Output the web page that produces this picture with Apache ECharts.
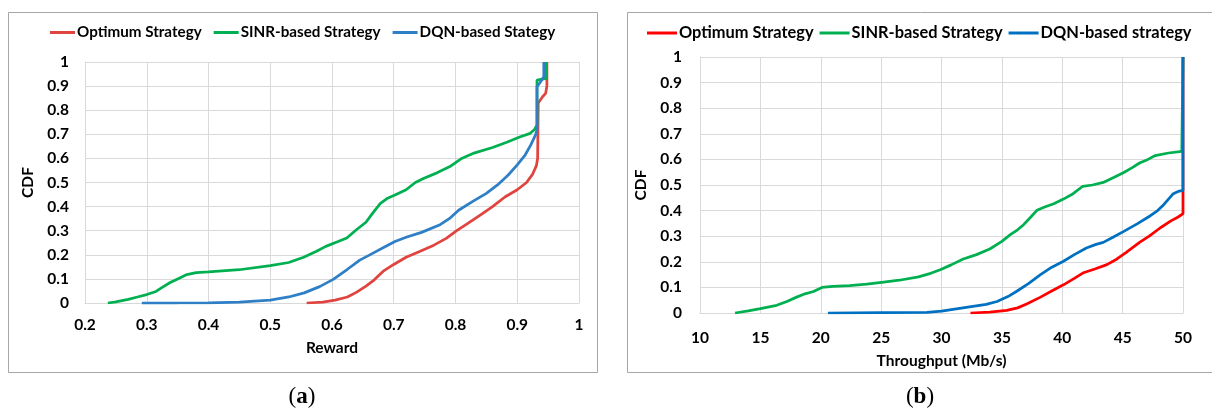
<!DOCTYPE html>
<html>
<head>
<meta charset="utf-8">
<script src="https://cdn.jsdelivr.net/npm/echarts@6/dist/echarts.min.js"></script>
<style>
  html, body { margin: 0; padding: 0; background: #fff; }
  #wrap { position: relative; width: 1212px; height: 410px; overflow: hidden; }
  #chartA { position: absolute; left: 0; top: 0; width: 606px; height: 410px; }
  #chartB { position: absolute; left: 606px; top: 0; width: 606px; height: 410px; }
</style>
</head>
<body>
<div id="wrap"><div id="chartA"></div><div id="chartB"></div></div>
<script>
// ---- Panel (a): CDF of reward ----
const rewardNames = ['Optimum Strategy', 'SINR-based Strategy', 'DQN-based Stategy'];
const rewardOptimum = [
  [0.559,0],[0.585,0.004],[0.605,0.012],[0.625,0.025],[0.64,0.045],[0.655,0.07],[0.668,0.095],
  [0.683,0.132],[0.7,0.16],[0.72,0.19],[0.74,0.212],[0.765,0.24],[0.785,0.268],[0.802,0.3],
  [0.82,0.33],[0.84,0.365],[0.86,0.4],[0.88,0.44],[0.9,0.47],[0.915,0.5],[0.925,0.535],
  [0.931,0.57],[0.933,0.6],[0.934,0.83],[0.941,0.856],[0.946,0.87],[0.948,0.9],[0.948,1]
];
const rewardSinr = [
  [0.237,0],[0.25,0.005],[0.27,0.015],[0.285,0.025],[0.3,0.035],[0.315,0.048],[0.325,0.065],
  [0.338,0.085],[0.35,0.1],[0.365,0.118],[0.38,0.126],[0.4,0.129],[0.45,0.138],[0.5,0.155],
  [0.53,0.168],[0.554,0.19],[0.575,0.215],[0.59,0.235],[0.61,0.255],[0.624,0.27],[0.64,0.305],
  [0.655,0.335],[0.665,0.37],[0.678,0.412],[0.69,0.435],[0.702,0.448],[0.72,0.47],[0.735,0.5],
  [0.748,0.517],[0.77,0.54],[0.791,0.566],[0.81,0.6],[0.83,0.622],[0.86,0.645],[0.883,0.667],
  [0.905,0.69],[0.921,0.704],[0.928,0.72],[0.932,0.739],[0.932,0.925],[0.947,0.932],[0.947,1]
];
const rewardDqn = [
  [0.292,0],[0.35,0],[0.4,0.001],[0.45,0.004],[0.5,0.012],[0.53,0.025],[0.555,0.042],[0.58,0.068],
  [0.602,0.098],[0.625,0.14],[0.645,0.178],[0.665,0.205],[0.685,0.232],[0.702,0.255],[0.72,0.273],
  [0.745,0.293],[0.775,0.325],[0.79,0.35],[0.805,0.385],[0.83,0.425],[0.85,0.455],[0.868,0.49],
  [0.885,0.53],[0.9,0.573],[0.913,0.615],[0.922,0.656],[0.93,0.7],[0.932,0.72],[0.932,0.898],
  [0.937,0.915],[0.943,0.939],[0.943,1]
];

// ---- Panel (b): CDF of throughput ----
const tputNames = ['Optimum Strategy', 'SINR-based Strategy', 'DQN-based strategy'];
const tputOptimum = [
  [32.4,0],[34,0.003],[35.4,0.01],[36.3,0.02],[37.05,0.035],[38.2,0.062],[39.2,0.088],[40.1,0.11],
  [41,0.135],[41.7,0.156],[42.7,0.172],[43.7,0.189],[44.5,0.21],[45.3,0.237],[46.4,0.276],
  [47.2,0.3],[48.1,0.332],[49,0.36],[49.6,0.375],[50,0.388],[50,1]
];
const tputSinr = [
  [12.9,0],[14,0.008],[15,0.017],[16.35,0.03],[17.2,0.045],[18,0.062],[18.7,0.075],[19.4,0.084],
  [20.1,0.1],[21,0.104],[22.4,0.107],[23.8,0.113],[25.05,0.12],[26.5,0.128],[28.1,0.141],
  [29.1,0.155],[29.9,0.169],[30.8,0.188],[31.8,0.211],[32.9,0.228],[34,0.25],[35,0.28],
  [35.7,0.306],[36.3,0.325],[36.8,0.345],[37.4,0.375],[37.9,0.401],[38.6,0.415],[39.3,0.427],
  [40.1,0.445],[40.9,0.466],[41.7,0.495],[42.5,0.5],[43.4,0.51],[44.3,0.53],[45.1,0.549],
  [45.8,0.568],[46.4,0.586],[47.1,0.6],[47.7,0.615],[48.8,0.625],[49.9,0.631],[50,0.631],[50,1]
];
const tputDqn = [
  [20.6,0],[25,0.001],[28.8,0.002],[30,0.007],[31.5,0.018],[32.6,0.026],[33.7,0.034],[34.6,0.045],
  [35.5,0.064],[36.2,0.084],[37.2,0.115],[38.2,0.15],[39.1,0.178],[40.1,0.202],[41,0.228],
  [42,0.254],[42.8,0.268],[43.4,0.276],[44.2,0.296],[45.1,0.319],[46.2,0.348],[47.3,0.38],
  [47.9,0.4],[48.4,0.423],[48.8,0.445],[49.2,0.466],[49.6,0.475],[50,0.479],[50,1]
];

const FONT = 'Lato';
const GRID_COLOR = '#d9d9d9';

function panel(cfg) {
  const labelStyle = { fontFamily: FONT, fontWeight: 'bold', fontSize: 15.5, color: '#000' };
  return {
    animation: false,
    backgroundColor: '#fff',
    graphic: [
      { type: 'rect', shape: cfg.frame, style: { fill: 'none', stroke: '#a6a6a6', lineWidth: 1 }, silent: true },
      { type: 'text', x: cfg.captionX, y: 397,
        style: { text: '{p|(}{b|' + cfg.caption + '}{p|)}', align: 'center', verticalAlign: 'middle',
          rich: { p: { fontFamily: 'Liberation Serif', fontSize: 23, fill: '#000' },
                  b: { fontFamily: 'Liberation Serif', fontSize: 23, fontWeight: 'bold', fill: '#000' } } } }
    ],
    legend: {
      top: 25, left: cfg.legendLeft, padding: 0,
      itemWidth: cfg.iconW, itemHeight: 3, itemGap: cfg.legendGap,
      icon: 'rect',
      textStyle: Object.assign({}, labelStyle, { fontSize: cfg.legendFont, padding: [0, 0, 0, -3] }),
      data: cfg.names
    },
    grid: cfg.grid,
    xAxis: {
      type: 'value', min: cfg.xMin, max: cfg.xMax, interval: cfg.xInt,
      name: cfg.xName, nameLocation: 'middle', nameGap: cfg.xNameGap,
      nameTextStyle: labelStyle,
      axisLine: { show: true, lineStyle: { color: GRID_COLOR } },
      axisTick: { show: false },
      axisLabel: Object.assign({ margin: cfg.xLabelMargin }, labelStyle),
      splitLine: { show: true, lineStyle: { color: GRID_COLOR, width: 1 } }
    },
    yAxis: {
      type: 'value', min: 0, max: 1, interval: 0.1,
      name: 'CDF', nameLocation: 'middle', nameGap: cfg.yNameGap, nameRotate: 90,
      nameTextStyle: labelStyle,
      axisLine: { show: true, lineStyle: { color: GRID_COLOR } },
      axisTick: { show: false },
      axisLabel: Object.assign({ margin: cfg.yLabelMargin }, labelStyle),
      splitLine: { show: true, lineStyle: { color: GRID_COLOR, width: 1 } }
    },
    series: cfg.series.map((d, i) => ({
      name: cfg.names[i], type: 'line', data: d, symbol: 'none', smooth: false,
      lineStyle: { color: cfg.colors[i], width: 2.75 }, itemStyle: { color: cfg.colors[i] },
      z: 2 + i
    }))
  };
}

const chartA = echarts.init(document.getElementById('chartA'), null, { renderer: 'canvas' });
chartA.setOption(panel({
  frame: { x: 8.5, y: 12.5, width: 589, height: 360 },
  caption: 'a', captionX: 302,
  legendLeft: 50, iconW: 25, legendGap: 12, legendFont: 15.2,
  names: rewardNames,
  grid: { left: 85, top: 62, right: 27, bottom: 107 },
  xMin: 0.2, xMax: 1, xInt: 0.1, xName: 'Reward', xNameGap: 37, xLabelMargin: 14,
  yNameGap: 37, yLabelMargin: 16,
  series: [rewardOptimum, rewardSinr, rewardDqn],
  colors: ['#e0443f', '#00b050', '#2e7fc6']
}));

const chartB = echarts.init(document.getElementById('chartB'), null, { renderer: 'canvas' });
chartB.setOption(panel({
  frame: { x: 21.5, y: 12.5, width: 700, height: 360 },
  caption: 'b', captionX: 314,
  legendLeft: 41, iconW: 30, legendGap: 6, legendFont: 16.4,
  names: tputNames,
  grid: { left: 94, top: 57, right: 29, bottom: 97 },
  xMin: 10, xMax: 50, xInt: 5, xName: 'Throughput (Mb/s)', xNameGap: 40, xLabelMargin: 17,
  yNameGap: 45, yLabelMargin: 18,
  series: [tputOptimum, tputSinr, tputDqn],
  colors: ['#ff0000', '#00b050', '#0070c0']
}));
</script>
</body>
</html>
